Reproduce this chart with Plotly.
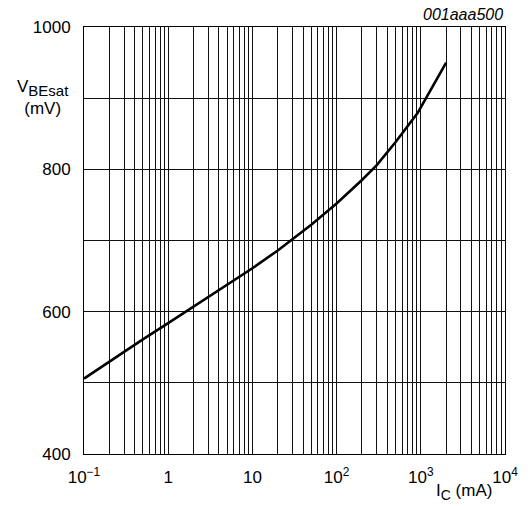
import plotly.graph_objects as go

# Collector current (mA) and base-emitter saturation voltage (mV)
ic_ma = [0.1, 0.2, 0.5, 1, 2, 5, 10, 20, 50, 100, 200, 300, 500, 700, 916, 1000, 2000]
vbesat_mv = [506, 530, 561, 584, 607, 637, 661, 686, 722, 752, 785, 806, 838, 861, 879, 887, 950]

# Axis ticks
x_decades = [0.1, 1, 10, 100, 1000, 10000]
x_decade_labels = ["10<sup>\u22121</sup>", "1", "10", "10<sup>2</sup>", "10<sup>3</sup>", "10<sup>4</sup>"]
y_ticks = [400, 500, 600, 700, 800, 900, 1000]
y_labels = ["400", "", "600", "", "800", "", "1000"]

# full log grid: 1..9 in every decade, labels only on the decades
x_grid = []
x_text = []
for i, d in enumerate(x_decades[:-1]):
    for m in range(1, 10):
        x_grid.append(d * m)
        x_text.append(x_decade_labels[i] if m == 1 else "")
x_grid.append(x_decades[-1])
x_text.append(x_decade_labels[-1])

FONT = "Liberation Sans, Arial, Helvetica, sans-serif"
FS = 17

fig = go.Figure()
fig.add_trace(go.Scatter(
    x=ic_ma, y=vbesat_mv, mode="lines",
    line=dict(color="black", width=2.6),
    showlegend=False, hoverinfo="skip",
))

fig.update_layout(
    width=530, height=506,
    margin=dict(l=84, r=19, t=27, b=52),
    paper_bgcolor="white", plot_bgcolor="white",
    font=dict(family=FONT, size=FS, color="black"),
)

fig.update_xaxes(
    type="log", range=[-1, 4],
    tickmode="array", tickvals=x_grid, ticktext=x_text,
    showgrid=True, gridcolor="#111", gridwidth=1,
    showline=True, linecolor="black", linewidth=1, mirror=True,
    ticks="", ticklabelstandoff=8, zeroline=False,
    tickfont=dict(family=FONT, size=FS, color="black"),
)
fig.update_yaxes(
    range=[400, 1000],
    tickmode="array", tickvals=y_ticks, ticktext=y_labels,
    showgrid=True, gridcolor="#111", gridwidth=1,
    showline=True, linecolor="black", linewidth=1, mirror=True,
    ticks="", ticklabelstandoff=9, zeroline=False,
    tickfont=dict(family=FONT, size=FS, color="black"),
)

fig.add_annotation(
    text="V<sub><span style='font-size:15px'>BEsat</span></sub><br>(mV)",
    xref="paper", yref="paper",
    x=-0.098, y=0.835, xanchor="center", yanchor="middle",
    showarrow=False, align="center",
    font=dict(family=FONT, size=FS, color="black"),
)
fig.add_annotation(
    text="I<sub><span style='font-size:14px'>C</span></sub> (mA)",
    xref="paper", yref="paper",
    x=0.902, y=-0.089, xanchor="center", yanchor="middle", showarrow=False,
    font=dict(family=FONT, size=FS, color="black"),
)
fig.add_annotation(
    text="<i>001aaa500</i>", xref="paper", yref="paper",
    x=1.0, y=1.03, xanchor="right", yanchor="middle", showarrow=False,
    font=dict(family=FONT, size=16, color="black"),
)

fig.write_html("out.html")
